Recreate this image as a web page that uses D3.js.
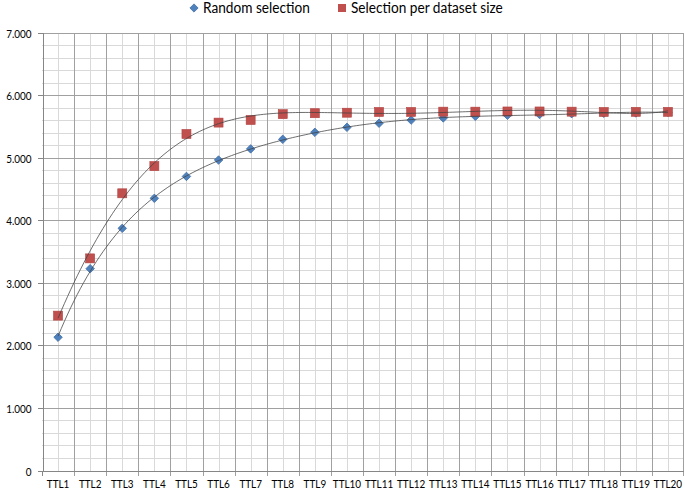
<!DOCTYPE html>
<html>
<head>
<meta charset="utf-8">
<script src="https://cdn.jsdelivr.net/npm/d3@7"></script>
<style>
  html, body { margin: 0; padding: 0; background: #fff; }
  svg { display: block; }
</style>
</head>
<body>
<svg id="chart" width="685" height="492"></svg>
<script>
// ---- data ----
const categories = ["TTL1","TTL2","TTL3","TTL4","TTL5","TTL6","TTL7","TTL8","TTL9","TTL10",
                    "TTL11","TTL12","TTL13","TTL14","TTL15","TTL16","TTL17","TTL18","TTL19","TTL20"];
const randomSelection = [2130,3225,3870,4350,4700,4962,5140,5293,5405,5485,
                         5550,5600,5635,5660,5678,5690,5702,5710,5714,5725];
const perDatasetSize  = [2475,3390,4430,4865,5378,5560,5602,5695,5710,5718,
                         5730,5730,5735,5735,5738,5738,5735,5730,5732,5732];
const yTicks = [0,1000,2000,3000,4000,5000,6000,7000];
const seriesNames = ["Random selection","Selection per dataset size"];

// ---- layout ----
const plot = {left: 42, right: 684, top: 32.5, bottom: 470.5};
const FONT = "Lato, 'Open Sans', sans-serif";
const AXIS_FS = 11.5, LEGEND_FS = 14.5;

const svg = d3.select("#chart");

// width ratio helper (emulates a narrower face at the same height)
const meas = svg.append("text").attr("font-family", FONT).attr("x", -1000).attr("y", -1000);
function widthAt(str, fs) { meas.attr("font-size", fs).text(str); return meas.node().getComputedTextLength(); }
const axisRatio = Math.min(1, 28.3 / widthAt("TTL20", AXIS_FS));
const legendRatio = Math.min(1, 106.8 / widthAt(seriesNames[0], LEGEND_FS));
meas.remove();
function squeeze(sel, ratio) {
  sel.each(function() {
    const w = this.getComputedTextLength();
    this.setAttribute("textLength", (w * ratio).toFixed(2));
    this.setAttribute("lengthAdjust", "spacingAndGlyphs");
  });
}

const x = d3.scaleBand().domain(categories).range([plot.left, plot.right]).paddingInner(0).paddingOuter(0);
const bw = x.bandwidth();
const y = d3.scaleLinear().domain([0, 7000]).range([plot.bottom, plot.top]);
const xi = d3.scaleLinear().domain([1, categories.length])
  .range([x(categories[0]) + bw/2, x(categories[categories.length-1]) + bw/2]);

const fmt = d3.formatLocale({decimal: ",", thousands: ".", grouping: [3], currency: ["", ""]}).format(",");
const px = v => Math.round(v) + 0.5;

// ---- grid ----
const grid = svg.append("g").attr("shape-rendering", "crispEdges");
const minorY = d3.range(200, 7001, 200).filter(v => v % 1000 !== 0);
grid.selectAll(".hmin").data(minorY).join("line")
  .attr("x1", plot.left).attr("x2", plot.right)
  .attr("y1", d => px(y(d))).attr("y2", d => px(y(d)))
  .attr("stroke", "#d9d9d9");
grid.selectAll(".vmin").data(categories).join("line")
  .attr("x1", d => px(x(d) + bw/2)).attr("x2", d => px(x(d) + bw/2))
  .attr("y1", plot.top).attr("y2", plot.bottom)
  .attr("stroke", "#d9d9d9");
grid.selectAll(".hmaj").data(yTicks.filter(v => v > 0)).join("line")
  .attr("x1", plot.left).attr("x2", plot.right)
  .attr("y1", d => px(y(d))).attr("y2", d => px(y(d)))
  .attr("stroke", "#a0a0a0");
const boundaries = categories.map(c => x(c)).concat([plot.right - 1]);
grid.selectAll(".vmaj").data(boundaries.slice(1)).join("line")
  .attr("x1", d => px(d)).attr("x2", d => px(d))
  .attr("y1", plot.top).attr("y2", plot.bottom + 5)
  .attr("stroke", "#a0a0a0");

// ---- axes ----
const yAxis = d3.axisLeft(y).tickValues(yTicks).tickSize(5).tickFormat(d => d === 0 ? "0" : fmt(d));
const gy = svg.append("g").attr("transform", `translate(${px(plot.left)},0)`).call(yAxis);
gy.select(".domain").attr("stroke", "#868686").attr("shape-rendering", "crispEdges");
gy.selectAll(".tick line").attr("stroke", "#868686").attr("shape-rendering", "crispEdges");
gy.selectAll(".tick").attr("transform", d => `translate(0,${px(y(d))})`);
gy.selectAll(".tick text").attr("font-family", FONT).attr("font-size", AXIS_FS).attr("fill", "#000")
  .attr("x", -11).attr("dy", null).attr("y", 4.2);
squeeze(gy.selectAll(".tick text"), axisRatio);

const xAxis = d3.axisBottom(x).tickSize(0);
const gx = svg.append("g").attr("transform", `translate(0,${px(plot.bottom)})`).call(xAxis);
gx.select(".domain").attr("stroke", "#868686").attr("shape-rendering", "crispEdges")
  .attr("d", `M${plot.left},0H${plot.right}`);
gx.selectAll(".tick text").attr("font-family", FONT).attr("font-size", AXIS_FS).attr("fill", "#000")
  .attr("dy", null).attr("y", 16);
squeeze(gx.selectAll(".tick text"), axisRatio);

// first boundary tick at left
svg.append("line").attr("x1", px(plot.left)).attr("x2", px(plot.left))
  .attr("y1", plot.bottom).attr("y2", plot.bottom + 5).attr("stroke", "#868686").attr("shape-rendering", "crispEdges");

// ---- polynomial trendline (order 6, least squares) ----
function polyfit(ys, deg) {
  const n = ys.length;
  const c = (n + 1) / 2, s = (n - 1) / 2;
  const ts = ys.map((_, i) => (i + 1 - c) / s);
  const m = deg + 1;
  const A = Array.from({length: m}, () => new Array(m + 1).fill(0));
  for (let k = 0; k < n; k++) {
    const p = [];
    for (let j = 0; j < m; j++) p.push(Math.pow(ts[k], j));
    for (let r = 0; r < m; r++) {
      for (let j = 0; j < m; j++) A[r][j] += p[r] * p[j];
      A[r][m] += p[r] * ys[k];
    }
  }
  for (let i = 0; i < m; i++) {
    let piv = i;
    for (let r = i + 1; r < m; r++) if (Math.abs(A[r][i]) > Math.abs(A[piv][i])) piv = r;
    [A[i], A[piv]] = [A[piv], A[i]];
    for (let r = 0; r < m; r++) {
      if (r === i) continue;
      const f = A[r][i] / A[i][i];
      for (let j = i; j <= m; j++) A[r][j] -= f * A[i][j];
    }
  }
  const coef = A.map((row, i) => row[m] / row[i]);
  return xv => { const t = (xv - c) / s; let v = 0; for (let j = m - 1; j >= 0; j--) v = v * t + coef[j]; return v; };
}

const seriesData = [randomSelection, perDatasetSize];
const colors = [{fill: "#4f81bd", stroke: "#4471a8"}, {fill: "#c0504d", stroke: "#b2423f"}];

// markers
svg.append("g").selectAll("path").data(randomSelection).join("path")
  .attr("d", d3.symbol().type(d3.symbolSquare).size(36))
  .attr("transform", (d, i) => `translate(${x(categories[i]) + bw/2},${y(d)}) rotate(45)`)
  .attr("fill", colors[0].fill).attr("stroke", colors[0].stroke).attr("stroke-width", 0.8);
svg.append("g").selectAll("rect").data(perDatasetSize).join("rect")
  .attr("x", (d, i) => x(categories[i]) + bw/2 - 4.5).attr("y", d => y(d) - 4.5)
  .attr("width", 9).attr("height", 9)
  .attr("fill", colors[1].fill).attr("stroke", colors[1].stroke).attr("stroke-width", 0.6);

// trendlines
seriesData.forEach(vals => {
  const f = polyfit(vals, 6);
  const pts = d3.range(1, categories.length + 0.001, 0.1).map(v => [xi(v), y(f(v))]);
  svg.append("path").datum(pts)
    .attr("d", d3.line())
    .attr("fill", "none").attr("stroke", "#404040").attr("stroke-width", 0.9).attr("opacity", 0.85);
});

// ---- legend ----
const leg = svg.append("g");
leg.append("path").attr("d", d3.symbol().type(d3.symbolSquare).size(34)())
  .attr("transform", `translate(194,8) rotate(45)`)
  .attr("fill", colors[0].fill).attr("stroke", colors[0].stroke).attr("stroke-width", 0.8);
leg.append("rect").attr("x", 338).attr("y", 4).attr("width", 8).attr("height", 8)
  .attr("fill", colors[1].fill);
const legTexts = leg.selectAll("text").data([{name: seriesNames[0], tx: 203}, {name: seriesNames[1], tx: 351}])
  .join("text").attr("x", d => d.tx).attr("y", 13)
  .attr("font-family", FONT).attr("font-size", LEGEND_FS).attr("fill", "#000")
  .text(d => d.name);
squeeze(legTexts, legendRatio);
</script>
</body>
</html>
